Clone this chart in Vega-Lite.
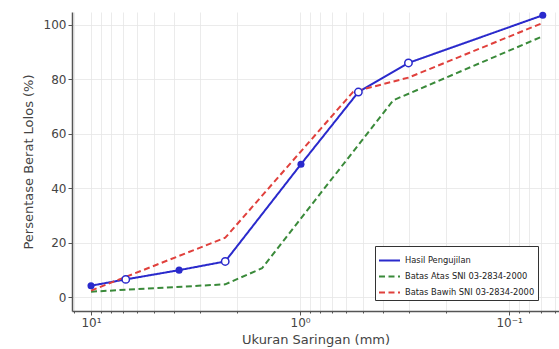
{
  "$schema": "https://vega.github.io/schema/vega-lite/v6.json",
  "autosize": {"type": "none"},
  "padding": {"left": 72, "top": 12, "right": 0, "bottom": 38},
  "width": 487,
  "height": 299,
  "background": "white",
  "config": {
    "view": {"stroke": null},
    "font": "DejaVu Sans",
    "axis": {"labelFont": "DejaVu Sans", "titleFont": "DejaVu Sans", "labelColor": "#444", "titleColor": "#444", "titleFontWeight": "normal", "domainColor": "#555", "domainWidth": 1.5, "tickColor": "#555", "gridColor": "#e6e6e6", "gridWidth": 0.8}
  },
  "data": {"values": [
    {"series": "Hasil Pengujilan", "x": 10, "y": 4.2},
    {"series": "Hasil Pengujilan", "x": 6.82, "y": 6.5},
    {"series": "Hasil Pengujilan", "x": 3.79, "y": 9.9},
    {"series": "Hasil Pengujilan", "x": 2.28, "y": 13.1},
    {"series": "Hasil Pengujilan", "x": 0.99, "y": 48.8},
    {"series": "Hasil Pengujilan", "x": 0.526, "y": 75.3},
    {"series": "Hasil Pengujilan", "x": 0.303, "y": 86.0},
    {"series": "Hasil Pengujilan", "x": 0.069, "y": 103.5},
    {"series": "Batas Atas SNI 03-2834-2000", "x": 10, "y": 2.0},
    {"series": "Batas Atas SNI 03-2834-2000", "x": 2.28, "y": 4.7},
    {"series": "Batas Atas SNI 03-2834-2000", "x": 1.52, "y": 10.6},
    {"series": "Batas Atas SNI 03-2834-2000", "x": 0.358, "y": 72.3},
    {"series": "Batas Atas SNI 03-2834-2000", "x": 0.069, "y": 95.8},
    {"series": "Batas Bawih SNI 03-2834-2000", "x": 10, "y": 2.4},
    {"series": "Batas Bawih SNI 03-2834-2000", "x": 2.28, "y": 21.8},
    {"series": "Batas Bawih SNI 03-2834-2000", "x": 0.557, "y": 75.4},
    {"series": "Batas Bawih SNI 03-2834-2000", "x": 0.303, "y": 80.6},
    {"series": "Batas Bawih SNI 03-2834-2000", "x": 0.069, "y": 100.7}
  ]},
  "encoding": {
    "x": {"field": "x", "type": "quantitative",
      "scale": {"type": "log", "domain": [0.0577, 12.33], "reverse": true, "nice": false},
      "axis": {"title": "Ukuran Saringan (mm)", "titleFontSize": 13, "titlePadding": 5,
        "values": [12, 10, 9, 8, 7, 6, 5, 4, 3, 2, 1, 0.9, 0.8, 0.7, 0.6, 0.5, 0.4, 0.3, 0.2, 0.1, 0.09, 0.08, 0.07, 0.06],
        "labelExpr": "datum.value == 10 ? '10¹' : (datum.value == 1 ? '10⁰' : (datum.value == 0.1 ? '10⁻¹' : ''))",
        "labelOverlap": false, "labelFlush": false, "labelFontSize": 12, "labelPadding": 2,
        "tickSize": {"condition": {"test": "datum.value == 10 || datum.value == 1 || datum.value == 0.1", "value": 4}, "value": 2}}},
    "y": {"field": "y", "type": "quantitative",
      "scale": {"domain": [-5.1, 104.7], "nice": false, "zero": false},
      "axis": {"title": "Persentase Berat Lolos (%)", "titleFontSize": 13, "titlePadding": 8,
        "values": [0, 20, 40, 60, 80, 100], "labelFontSize": 12, "tickSize": 4, "labelPadding": 2}}
  },
  "layer": [
    {
      "mark": {"type": "line", "strokeWidth": 2},
      "encoding": {
        "color": {"field": "series", "type": "nominal",
          "scale": {"domain": ["Hasil Pengujilan", "Batas Atas SNI 03-2834-2000", "Batas Bawih SNI 03-2834-2000"], "range": ["#2a2acc", "#3a8a3a", "#e0403c"]},
          "legend": {"title": null, "orient": "none", "legendX": 303, "legendY": 234, "symbolType": "stroke", "symbolSize": 441, "symbolStrokeWidth": 2, "labelFontSize": 8.3, "labelColor": "#222", "strokeColor": "#333", "fillColor": "white", "padding": 3, "cornerRadius": 0, "rowPadding": -7, "labelOffset": 4, "labelLimit": 300}},
        "strokeDash": {"field": "series", "type": "nominal",
          "scale": {"domain": ["Hasil Pengujilan", "Batas Atas SNI 03-2834-2000", "Batas Bawih SNI 03-2834-2000"], "range": [[1, 0], [6, 3.5], [6, 3.5]]},
          "legend": {"title": null, "orient": "none", "legendX": 303, "legendY": 234, "symbolType": "stroke", "symbolSize": 441, "symbolStrokeWidth": 2, "labelFontSize": 8.3, "labelColor": "#222", "strokeColor": "#333", "fillColor": "white", "padding": 3, "cornerRadius": 0, "rowPadding": -7, "labelOffset": 4, "labelLimit": 300}}
      }
    },
    {
      "transform": [{"filter": {"field": "series", "equal": "Hasil Pengujilan"}}, {"filter": {"field": "x", "oneOf": [10, 3.79, 0.99, 0.069]}}],
      "mark": {"type": "point", "shape": "circle", "filled": true, "color": "#2a2acc", "size": 50, "opacity": 1}
    },
    {
      "transform": [{"filter": {"field": "series", "equal": "Hasil Pengujilan"}}, {"filter": {"field": "x", "oneOf": [6.82, 2.28, 0.526, 0.303]}}],
      "mark": {"type": "point", "shape": "circle", "filled": false, "fill": "white", "stroke": "#2a2acc", "strokeWidth": 1.5, "size": 55, "opacity": 1}
    }
  ]
}
